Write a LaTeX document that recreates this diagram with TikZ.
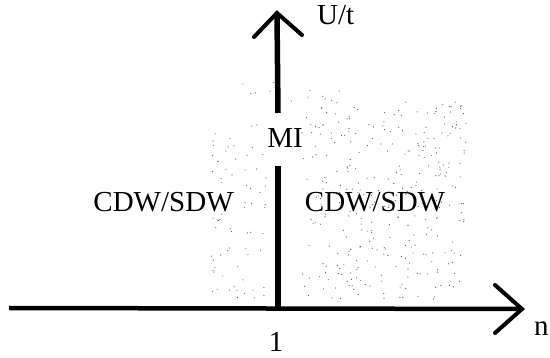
\documentclass[tikz,border=0pt]{standalone}
\usepackage{fontspec}
\setmainfont{Liberation Serif}
\begin{document}
\begin{tikzpicture}[x=1pt,y=-1pt,
  axis/.style={line width=4.5pt},
  chev/.style={line width=4pt, line cap=round, line join=miter},
  lbl/.style={inner sep=0pt, anchor=base, font=\fontsize{29}{32}\selectfont},
  dot/.style={fill=black!65}]
\useasboundingbox (0,0) rectangle (550,358);
% stipple texture
\pgfmathsetseed{12345}
\foreach \i in {1,...,320}{
  \pgfmathsetmacro\xx{302+165*rnd}
  \pgfmathsetmacro\yy{100+200*rnd}
  \fill[dot] (\xx,\yy) circle (0.6);
}
\foreach \i in {1,...,70}{
  \pgfmathsetmacro\xx{210+58*rnd}
  \pgfmathsetmacro\yy{120+180*rnd}
  \fill[dot] (\xx,\yy) circle (0.6);
}
\foreach \i in {1,...,12}{
  \pgfmathsetmacro\xx{240+100*rnd}
  \pgfmathsetmacro\yy{78+25*rnd}
  \fill[dot] (\xx,\yy) circle (0.6);
}
% axes
\coordinate (xstart) at (9,308);
\coordinate (o) at (278,308);
\coordinate (xtip) at (522,309);
\coordinate (gapbot) at (278,166);
\coordinate (gaptop) at (278,113);
\coordinate (ytip) at (277,13);
\draw[axis] (xstart) -- (xtip);
\draw[axis, line width=5.5pt] (o) -- (gapbot);
\draw[axis, line width=5.5pt] (gaptop) -- ([yshift=-2pt]ytip);
\draw[chev] ([xshift=-27pt,yshift=-24pt]xtip) -- (xtip) -- ([xshift=-27pt,yshift=24pt]xtip);
\draw[chev] ([xshift=-23pt,yshift=-24pt]ytip) -- (ytip) -- ([xshift=25pt,yshift=-22pt]ytip);
% labels
\node[lbl] (cdwl) at (163.5,212) {CDW/SDW};
\node[lbl] (cdwr) at (375,212) {CDW/SDW};
\node[lbl] (mi) at (285,148) {MI};
\node[lbl, anchor=base west] (ut) at (317,25) {U/t};
\node[lbl, anchor=base west] (n) at (534,336) {n};
\node[lbl] (one) at (276,352) {1};
\end{tikzpicture}
\end{document}
